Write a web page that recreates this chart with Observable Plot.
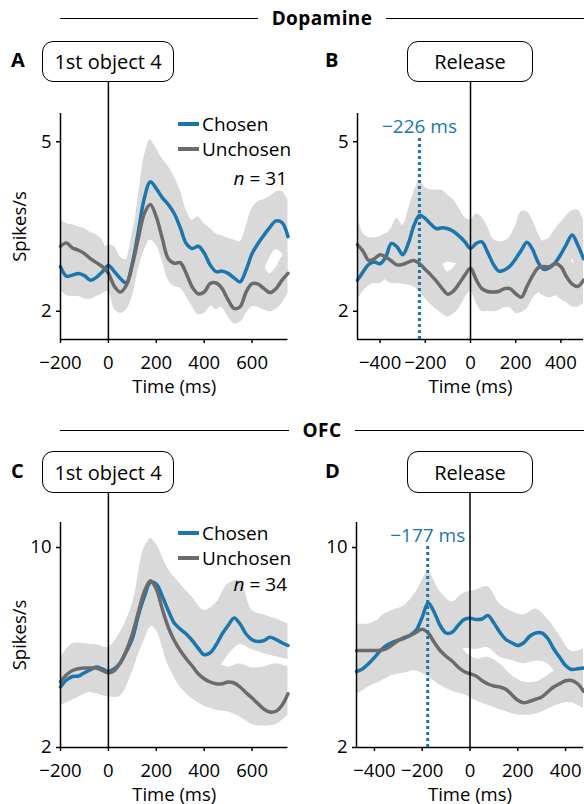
<!DOCTYPE html>
<html><head><meta charset="utf-8">
<script src="https://cdn.jsdelivr.net/npm/d3@7"></script>
<script src="https://cdn.jsdelivr.net/npm/@observablehq/plot@0.6"></script>
<style>
body{margin:0;background:#fff;}
#fig{position:relative;width:584px;height:804px;font-family:"Open Sans",sans-serif;color:#000;overflow:hidden;background:#fff;}
.hdr{position:absolute;left:60px;right:0;height:24px;display:flex;align-items:center;}
.hdr .ln{flex:1;height:0;border-top:1.5px solid #000;}
.hdr .tx{font-weight:700;font-size:19px;letter-spacing:0.4px;padding:0 14px;line-height:24px;}
.letter{position:absolute;font-weight:700;font-size:20px;line-height:20px;}
.box{position:absolute;border:1.5px solid #000;border-radius:11px;box-sizing:border-box;display:flex;align-items:center;justify-content:center;font-size:20px;background:#fff;}
.leg{position:absolute;font-size:19px;line-height:20px;height:20px;display:flex;align-items:center;white-space:nowrap;}
.sw{display:inline-block;width:21px;height:0;border-top:4.5px solid;margin-right:3px;}
.nlab{position:absolute;font-size:19px;line-height:20px;white-space:nowrap;text-align:right;}
.plot{position:absolute;}
.plot svg{overflow:visible;}
</style></head>
<body>
<div id="fig">
  <div class="hdr" style="top:6px"><div class="ln"></div><div class="tx">Dopamine</div><div class="ln"></div></div>
  <div class="hdr" style="top:418px"><div class="ln"></div><div class="tx">OFC</div><div class="ln"></div></div>
  <div class="letter" style="left:11px;top:50px">A</div>
  <div class="letter" style="left:325px;top:50px">B</div>
  <div class="letter" style="left:11px;top:461px">C</div>
  <div class="letter" style="left:325px;top:461px">D</div>
  <div id="pA" class="plot" style="left:0;top:81px"></div>
  <div id="pB" class="plot" style="left:292px;top:81px"></div>
  <div id="pC" class="plot" style="left:0;top:492px"></div>
  <div id="pD" class="plot" style="left:292px;top:492px"></div>
  <div class="box" style="left:42px;top:41px;width:132px;height:41px">1st object 4</div>
  <div class="box" style="left:407px;top:41px;width:126px;height:41px">Release</div>
  <div class="box" style="left:42px;top:451px;width:132px;height:42px">1st object 4</div>
  <div class="box" style="left:407px;top:451px;width:126px;height:42px">Release</div>
  <div class="leg" style="left:178px;top:114px"><span class="sw" style="border-color:#1b76ad"></span>Chosen</div>
  <div class="leg" style="left:178px;top:139px"><span class="sw" style="border-color:#6b6b6b"></span>Unchosen</div>
  <div class="nlab" style="right:297px;top:168px"><i>n</i> = 31</div>
  <div class="leg" style="left:178px;top:523px"><span class="sw" style="border-color:#1b76ad"></span>Chosen</div>
  <div class="leg" style="left:178px;top:548px"><span class="sw" style="border-color:#6b6b6b"></span>Unchosen</div>
  <div class="nlab" style="right:297px;top:574px"><i>n</i> = 34</div>
</div>
<script>
// ---------- data ----------
// Panel A: Dopamine, aligned to 1st object 4
const timesA = d3.range(-200, 751, 25);
const chosenA = [2.79,2.62,2.64,2.67,2.63,2.55,2.60,2.70,2.81,2.70,2.58,2.50,2.85,3.41,4.00,4.29,4.17,4.01,3.89,3.73,3.48,3.20,3.11,3.15,3.03,2.82,2.70,2.71,2.67,2.59,2.52,2.73,3.02,3.20,3.35,3.49,3.60,3.57,3.32];
const unchosenA = [3.15,3.21,3.12,3.08,3.02,2.93,2.86,2.79,2.67,2.44,2.34,2.46,2.82,3.29,3.73,3.89,3.67,3.29,2.93,2.85,2.86,2.67,2.43,2.31,2.34,2.49,2.50,2.40,2.20,2.05,2.08,2.34,2.49,2.48,2.40,2.33,2.40,2.55,2.67];
const chosenSemA = [.41,.34,.38,.41,.41,.34,.34,.39,.36,.44,.38,.41,.44,.62,.74,.74,.71,.69,.67,.65,.66,.59,.50,.52,.52,.65,.67,.62,.62,.67,.71,.77,.80,.74,.63,.54,.51,.55,.65];
const unchosenSemA = [.46,.34,.41,.41,.44,.47,.49,.47,.32,.40,.38,.44,.56,.56,.65,.63,.50,.41,.38,.41,.45,.41,.35,.37,.38,.41,.38,.34,.30,.27,.28,.38,.41,.41,.38,.34,.37,.41,.35];

// Panel B: Dopamine, aligned to release
const timesB = d3.range(-500, 501, 25);
const chosenB = [2.55,2.70,2.83,2.87,2.84,2.96,3.20,3.14,3.00,3.20,3.52,3.70,3.64,3.54,3.46,3.48,3.46,3.41,3.33,3.23,3.11,3.20,3.23,3.05,2.84,2.71,2.73,2.80,2.93,3.08,3.22,3.09,2.86,2.74,2.77,2.86,3.01,3.19,3.35,3.17,2.93];
const unchosenB = [3.18,3.06,2.90,2.93,3.00,2.96,2.89,2.82,2.83,2.87,2.90,2.84,2.74,2.64,2.53,2.40,2.30,2.36,2.49,2.64,2.76,2.56,2.40,2.35,2.34,2.35,2.40,2.40,2.31,2.25,2.44,2.63,2.77,2.79,2.79,2.84,2.79,2.61,2.48,2.44,2.55];
const chosenSemB = [.35,.35,.38,.38,.35,.38,.27,.50,.52,.59,.59,.60,.55,.61,.68,.66,.59,.56,.49,.43,.50,.52,.44,.45,.44,.52,.51,.52,.59,.68,.54,.52,.51,.47,.53,.59,.56,.50,.43,.62,.68];
const unchosenSemB = [.52,.32,.40,.37,.32,.41,.40,.33,.35,.41,.47,.51,.52,.53,.50,.45,.40,.41,.44,.41,.41,.41,.40,.35,.35,.34,.34,.34,.35,.27,.40,.41,.45,.46,.50,.56,.58,.46,.40,.37,.41];

// Panel C: OFC, aligned to 1st object 4
const timesC = d3.range(-200, 751, 25);
const chosenC = [4.42,4.70,4.84,4.86,4.99,5.11,5.22,5.14,5.04,5.15,5.39,5.84,6.35,7.28,8.03,8.60,8.54,8.05,7.48,6.98,6.74,6.54,6.28,5.97,5.71,5.79,6.11,6.54,6.88,7.18,6.94,6.54,6.31,6.24,6.28,6.41,6.32,6.19,6.08];
const unchosenC = [4.62,4.91,5.08,5.15,5.18,5.18,5.18,5.08,4.99,5.08,5.39,5.88,6.54,7.41,8.23,8.67,8.34,7.54,6.81,6.28,5.88,5.55,5.26,4.95,4.75,4.62,4.55,4.55,4.62,4.58,4.42,4.19,3.98,3.75,3.53,3.42,3.45,3.69,4.15];
const bandTimesC = [-200,-150,-100,-50,0,50,100,150,175,200,250,300,350,400,450,500,550,600,650,700,750];
const chosenHiC = [5.42,6.01,6.08,6.11,6.01,6.61,7.74,9.80,10.36,10.13,9.14,8.54,8.01,7.48,7.78,8.54,8.67,7.48,7.30,7.14,6.94];
const chosenLoC = [3.69,3.89,4.13,4.29,4.09,4.15,5.15,6.28,6.81,6.88,5.95,5.42,5.02,4.62,5.02,5.68,6.12,5.91,5.76,5.63,5.52];
const unchosenHiC = [5.57,6.15,6.15,6.08,5.95,6.54,7.67,10.00,10.27,9.93,8.34,7.28,6.61,5.95,5.42,5.22,5.35,5.18,5.22,5.35,5.22];
const unchosenLoC = [3.82,4.02,4.22,4.15,4.02,4.06,5.02,6.48,6.88,6.68,5.28,4.42,3.95,3.66,3.49,3.42,3.22,2.92,2.86,2.92,3.29];

// Panel D: OFC, aligned to release
const timesD = d3.range(-475, 476, 25);
const chosenD = [5.04,5.14,5.35,5.60,5.87,6.08,6.21,6.29,6.37,6.49,6.70,7.21,7.78,7.41,6.88,6.58,6.61,6.88,7.12,7.17,7.12,7.14,7.28,6.98,6.61,6.32,6.19,6.08,6.19,6.45,6.58,6.58,6.37,5.95,5.61,5.28,5.12,5.15,5.18];
const unchosenD = [5.88,5.88,5.88,5.88,5.89,5.95,6.11,6.28,6.41,6.48,6.61,6.73,6.58,6.21,5.88,5.65,5.46,5.22,5.04,4.95,4.86,4.68,4.54,4.46,4.42,4.33,4.11,3.89,3.79,3.85,3.93,4.02,4.22,4.42,4.55,4.67,4.68,4.55,4.25];
const bandTimesD = d3.range(-475, 476, 50);
const chosenHiD = [6.04,6.28,7.21,7.48,7.67,8.23,9.00,8.23,7.83,8.18,8.30,8.43,7.74,7.44,7.30,7.54,7.14,6.48,5.84,5.95];
const chosenLoD = [4.09,4.42,4.64,4.95,5.04,5.28,6.48,5.55,5.42,5.95,5.92,5.99,5.61,5.48,5.35,5.46,5.35,4.75,4.35,4.35];
const unchosenHiD = [6.94,6.94,7.14,7.34,7.61,8.07,7.81,7.14,6.68,5.88,5.55,5.61,5.35,4.88,4.62,4.62,4.88,5.22,5.68,5.15];
const unchosenLoD = [4.82,4.88,4.68,4.88,4.98,5.07,4.82,4.49,4.25,4.11,3.87,3.69,3.51,3.36,3.29,3.33,3.53,3.73,3.79,3.55];

// axes / annotations
const ticksObj = [-200, 0, 200, 400, 600];
const ticksRel = [-400, -200, 0, 200, 400];
const yTicksDA = [2, 5];
const yTicksOFC = [2, 10];
const markerB = {t: -226, top: 5.09, labelY: 5.27, label: "\u2212226 ms"};
const markerD = {t: -177, top: 10.15, labelY: 10.46, label: "\u2212177 ms"};

// ---------- drawing ----------
const BLUE = "#1b76ad", GRAY = "#6b6b6b", BAND = "#d9d9d9";
const fmt = d3.format("d");

function semBand(times, mean, sem) {
  return times.map((t, i) => ({t, lo: mean[i] - sem[i], hi: mean[i] + sem[i]}));
}
function loHiBand(times, lo, hi) {
  return times.map((t, i) => ({t, lo: lo[i], hi: hi[i]}));
}

function panel(cfg) {
  const {times, chosen, unchosen, cBand, uBand, xDomain, yDomain, xTicks, yTicks, yLabel, marker,
         width, height, mt, mb, ml, mr} = cfg;
  const innerH = height - mt - mb;
  const yExt = yDomain[1] + (yDomain[1] - yDomain[0]) * mt / innerH;
  const rows = times.map((t, i) => ({t, c: chosen[i], u: unchosen[i]}));
  const marks = [
    Plot.areaY(cBand, {x: "t", y1: "lo", y2: "hi", fill: BAND, curve: "catmull-rom"}),
    Plot.areaY(uBand, {x: "t", y1: "lo", y2: "hi", fill: BAND, curve: "catmull-rom"}),
    Plot.lineY(rows, {x: "t", y: "c", stroke: BLUE, strokeWidth: 3.5, curve: "catmull-rom"}),
    Plot.lineY(rows, {x: "t", y: "u", stroke: GRAY, strokeWidth: 3.5, curve: "catmull-rom"}),
    Plot.ruleX([xDomain[0]], {stroke: "#000", strokeWidth: 1.5}),
    Plot.ruleY([yDomain[0]], {stroke: "#000", strokeWidth: 1.5}),
    Plot.ruleX([0], {y1: yDomain[0], y2: yExt, stroke: "#000", strokeWidth: 1.5}),
    Plot.axisX({ticks: xTicks, tickFormat: fmt, tickSize: 4, tickPadding: 12, strokeWidth: 1.5, fontSize: 18.5,
                label: "Time (ms)", labelAnchor: "center", labelOffset: 53, labelArrow: "none"}),
    Plot.axisY({ticks: yTicks, tickFormat: fmt, tickSize: 4, tickPadding: 5, strokeWidth: 1.5, fontSize: 18.5,
                label: yLabel, labelAnchor: "center", labelOffset: 48, labelArrow: "none"})
  ];
  if (marker) {
    marks.push(Plot.ruleX([marker], {x: "t", y1: yDomain[0], y2: marker.top, stroke: BLUE, strokeWidth: 3, strokeDasharray: "3,3"}));
    marks.push(Plot.text([marker], {x: "t", y: "labelY", text: "label", fill: BLUE, fontSize: 19}));
  }
  return Plot.plot({
    width, height, marginTop: mt, marginBottom: mb, marginLeft: ml, marginRight: mr,
    style: {fontFamily: "Open Sans", fontSize: "18.5px", color: "#000", background: "transparent", overflow: "visible"},
    x: {domain: xDomain},
    y: {domain: yDomain},
    marks
  });
}

document.getElementById("pA").append(panel({
  times: timesA, chosen: chosenA, unchosen: unchosenA,
  cBand: semBand(timesA, chosenA, chosenSemA), uBand: semBand(timesA, unchosenA, unchosenSemA),
  xDomain: [-200, 750], yDomain: [1.5, 5.5], xTicks: ticksObj, yTicks: yTicksDA, yLabel: "Spikes/s",
  width: 292, height: 320, mt: 32, mb: 62, ml: 60, mr: 4.5
}));
document.getElementById("pB").append(panel({
  times: timesB, chosen: chosenB, unchosen: unchosenB,
  cBand: semBand(timesB, chosenB, chosenSemB), uBand: semBand(timesB, unchosenB, unchosenSemB),
  xDomain: [-500, 500], yDomain: [1.5, 5.5], xTicks: ticksRel, yTicks: yTicksDA, yLabel: null, marker: markerB,
  width: 292, height: 320, mt: 32, mb: 62, ml: 65, mr: 1
}));
document.getElementById("pC").append(panel({
  times: timesC, chosen: chosenC, unchosen: unchosenC,
  cBand: loHiBand(bandTimesC, chosenLoC, chosenHiC), uBand: loHiBand(bandTimesC, unchosenLoC, unchosenHiC),
  xDomain: [-200, 750], yDomain: [2, 11], xTicks: ticksObj, yTicks: yTicksOFC, yLabel: "Spikes/s",
  width: 292, height: 312, mt: 30, mb: 57, ml: 60, mr: 4.5
}));
document.getElementById("pD").append(panel({
  times: timesD, chosen: chosenD, unchosen: unchosenD,
  cBand: loHiBand(bandTimesD, chosenLoD, chosenHiD), uBand: loHiBand(bandTimesD, unchosenLoD, unchosenHiD),
  xDomain: [-475, 475], yDomain: [2, 11], xTicks: ticksRel, yTicks: yTicksOFC, yLabel: null, marker: markerD,
  width: 292, height: 312, mt: 30, mb: 57, ml: 64, mr: 1
}));
</script>
</body></html>
